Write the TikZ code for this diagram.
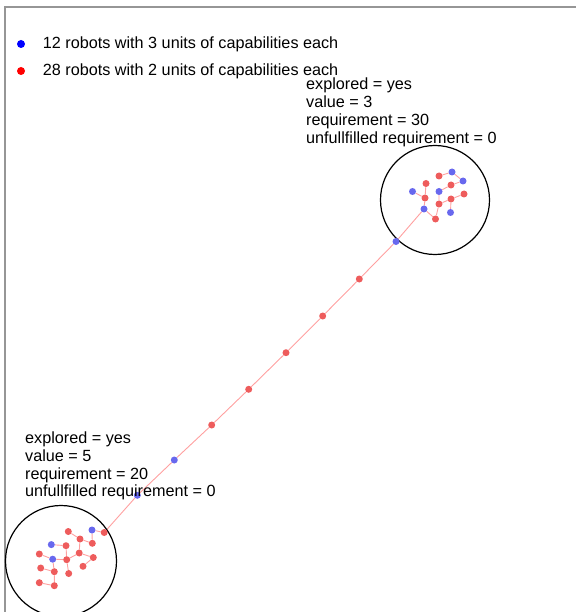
\documentclass[tikz,border=0pt]{standalone}
\usepackage{fontspec}
\setmainfont{Liberation Sans}
\usetikzlibrary{positioning, backgrounds}
\definecolor{rbred}{RGB}{238,92,92}
\definecolor{rbblue}{RGB}{104,104,238}
\definecolor{linkpink}{RGB}{255,160,160}
\definecolor{framegray}{RGB}{150,150,150}
\tikzset{
  red robot/.style={circle, fill=rbred, inner sep=0pt, minimum size=7pt},
  blue robot/.style={circle, fill=rbblue, inner sep=0pt, minimum size=7pt},
  link/.style={draw=linkpink, line width=0.9pt},
  region/.style={circle, draw, line width=1.2pt, inner sep=0pt},
  info/.style={anchor=north west, inner sep=0pt, align=left, font=\fontsize{16.2}{17.8}\selectfont},
  legtext/.style={anchor=west, inner sep=0pt, font=\fontsize{16.2}{17.8}\selectfont}
}

\begin{document}
\begin{tikzpicture}[x=1pt, y=-1pt]
    \useasboundingbox (0,0) rectangle (576,612);
    % cadre de la fenetre
    \draw[framegray, line width=2pt] (5,612) -- (5,7) -- (576,7);

    % legende
    \node[circle, fill=blue, inner sep=0pt, minimum size=8pt] (bdot) at (21,44) {};
    \node[legtext, right=17.5pt of bdot] (btext) {12 robots with 3 units of capabilities each};
    \node[circle, fill=red, inner sep=0pt, minimum size=8pt] (rdot) at (21,71) {};
    \node[legtext, right=17.5pt of rdot] (rtext) {28 robots with 2 units of capabilities each};

    % zone du haut
    \node[region, minimum size=109pt] (topzone) at (435,200) {};
    \node[info] (topinfo) at (306,78) {explored = yes\\value = 3\\requirement = 30\\unfullfilled requirement = 0};
    \node[red robot]  (a1)  at (439,176) {};
    \node[blue robot] (a2)  at (452,172) {};
    \node[blue robot] (a3)  at (463,181) {};
    \node[red robot]  (a4)  at (451,185) {};
    \node[red robot]  (a5)  at (426,183.5) {};
    \node[blue robot] (a6)  at (412.5,191.5) {};
    \node[blue robot] (a7)  at (439,191.5) {};
    \node[red robot]  (a8)  at (464,194) {};
    \node[red robot]  (a9)  at (425,198) {};
    \node[red robot]  (a10) at (451,199) {};
    \node[red robot]  (a11) at (439,204) {};
    \node[blue robot] (a12) at (424,209) {};
    \node[blue robot] (a13) at (450.5,212.5) {};
    \node[red robot]  (a14) at (435.5,219) {};

    % chaine entre les deux zones
    \node[blue robot] (c1) at (396,241.5) {};
    \node[red robot]  (c2) at (359.3,279) {};
    \node[red robot]  (c3) at (322.7,316) {};
    \node[red robot]  (c4) at (286,352.7) {};
    \node[red robot]  (c5) at (248.7,389.3) {};
    \node[red robot]  (c6) at (211.7,425) {};
    \node[blue robot] (c7) at (174.3,460) {};
    \node[blue robot] (c8) at (137.3,495.3) {};

    % zone du bas
    \node[region, minimum size=111pt] (botzone) at (61,561) {};
    \node[info] (botinfo) at (25,431.5) {explored = yes\\value = 5\\requirement = 20\\unfullfilled requirement = 0};
    \node[red robot]  (b1)  at (68.3,531.5) {};
    \node[blue robot] (b2)  at (92,530) {};
    \node[red robot]  (b3)  at (104.2,532.5) {};
    \node[red robot]  (b4)  at (80,539) {};
    \node[red robot]  (b5)  at (92.3,543.3) {};
    \node[blue robot] (b6)  at (51.3,544.6) {};
    \node[red robot]  (b7)  at (66,545.7) {};
    \node[red robot]  (b8)  at (79.2,553) {};
    \node[red robot]  (b9)  at (39.3,554) {};
    \node[red robot]  (b10) at (93.3,557.5) {};
    \node[blue robot] (b11) at (52.7,559.2) {};
    \node[red robot]  (b12) at (66.7,559.7) {};
    \node[red robot]  (b13) at (83,566.3) {};
    \node[red robot]  (b14) at (40.7,568) {};
    \node[red robot]  (b15) at (54.3,571.7) {};
    \node[red robot]  (b16) at (68.7,573.5) {};
    \node[red robot]  (b17) at (39.3,582.7) {};
    \node[red robot]  (b18) at (54.3,585.7) {};

    % liens (sous les robots)
    \begin{scope}[on background layer]
    \draw[link] (a1) -- (a2) -- (a3) -- (a4) -- (a7);
    \draw[link] (a5) -- (a9) -- (a12) -- (a14) -- (a11) -- (a7);
    \draw[link] (a6) -- (a9);
    \draw[link] (a11) -- (a10) -- (a8);
    \draw[link] (a10) -- (a13);
    \draw[link] (a12) -- (c1) -- (c2) -- (c3) -- (c4) -- (c5) -- (c6) -- (c7) -- (c8) -- (b3) -- (b2) -- (b5) -- (b4) -- (b1);
    \draw[link] (b4) -- (b8) -- (b12) -- (b16);
    \draw[link] (b8) -- (b10) -- (b13);
    \draw[link] (b6) -- (b7) -- (b12) -- (b11) -- (b9);
    \draw[link] (b11) -- (b15) -- (b14);
    \draw[link] (b15) -- (b18) -- (b17);
    \end{scope}
\end{tikzpicture}
\end{document}
